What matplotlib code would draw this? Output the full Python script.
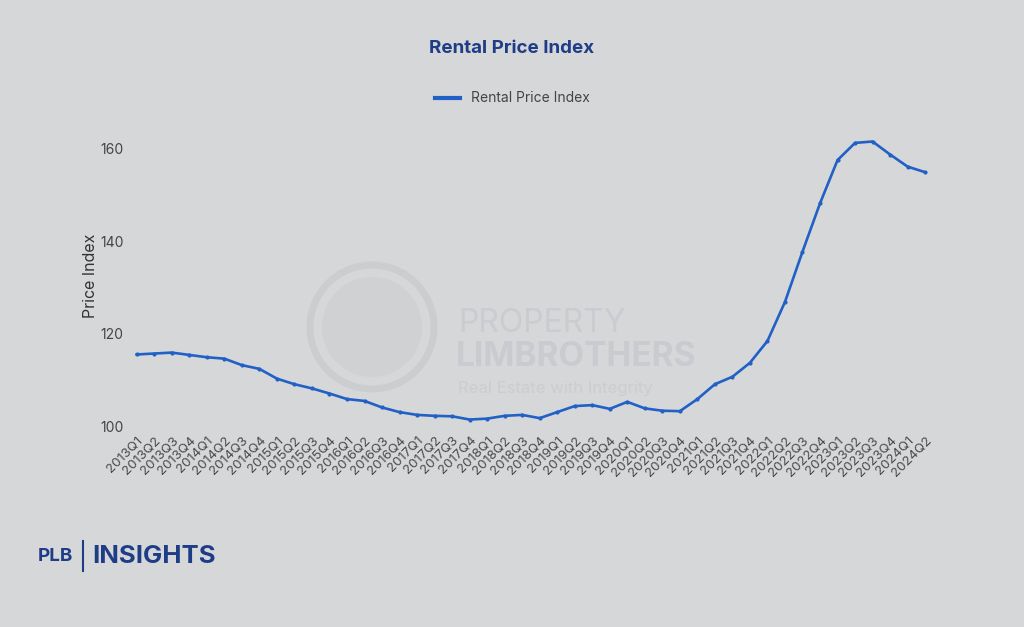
import matplotlib.pyplot as plt
from matplotlib.patches import Circle
import numpy as np

# quarterly rental price index, 2013Q1 - 2024Q2
years = list(range(2013, 2025))
quarters = [f"{y}Q{q}" for y in years for q in range(1, 5)][:46]
rental_index = [
    115.6, 115.8, 116.0, 115.5,
    115.0, 114.7, 113.3, 112.5,
    110.4, 109.2, 108.3, 107.2,
    106.0, 105.6, 104.2, 103.2,
    102.6, 102.4, 102.3, 101.6,
    101.8, 102.4, 102.6, 101.9,
    103.2, 104.5, 104.7, 103.9,
    105.4, 104.0, 103.5, 103.4,
    106.0, 109.2, 110.8, 113.8,
    118.5, 126.9, 137.7, 148.1,
    157.4, 161.1, 161.4, 158.6,
    156.0, 154.8,
]
yticks = [100, 120, 140, 160]

bg = "#d6d7d9"
navy = "#1f3d87"
line_col = "#2160c4"

plt.rcParams['font.family'] = ['Inter', 'DejaVu Sans']

fig = plt.figure(figsize=(10.24, 6.27), dpi=100, facecolor=bg)

# watermark behind the chart
wm = fig.add_axes([0, 0, 1, 1], facecolor="none")
wm.set_xlim(0, 1024)
wm.set_ylim(627, 0)
wm.axis("off")
wm.add_patch(Circle((372, 327), 62, fill=False, lw=5, ec="#cbcdcf"))
wm.add_patch(Circle((372, 327), 50, fill=True, lw=0, fc="#d0d1d3"))
wm.text(458, 323, "PROPERTY", fontsize=23, color="#cacccf", va="center", ha="left")
wm.text(456, 357, "LIMBROTHERS", fontsize=24, color="#c9cbce", va="center",
        ha="left", fontweight="bold")
wm.text(458, 388, "Real Estate with Integrity", fontsize=12, color="#cbcdcf",
        va="center", ha="left")

ax = fig.add_axes([0.125, 0.319, 0.787, 0.482], facecolor="none")
x = np.arange(len(quarters))
ax.plot(x, rental_index, color=line_col, lw=1.9, marker="o", ms=2.0,
        label="Rental Price Index")

ax.set_xlim(-0.5, len(quarters) - 0.5)
ax.set_ylim(100, 165)
ax.set_yticks(yticks)
ax.set_xticks(x)
ax.set_xticklabels(quarters, rotation=45, ha="right", rotation_mode="anchor",
                   fontsize=9.5, color="#4a4a4a")
ax.tick_params(axis="y", labelsize=10, colors="#444444", length=0, pad=3)
ax.tick_params(axis="x", length=0, pad=5)
for s in ax.spines.values():
    s.set_visible(False)
ax.set_ylabel("Price Index", fontsize=11.5, color="#333333", labelpad=2)

fig.text(0.5, 0.923, "Rental Price Index", ha="center", va="center",
         fontsize=13.5, fontweight="bold", color=navy)
leg = ax.legend(loc="center", bbox_to_anchor=(0.5, 0.843),
                bbox_transform=fig.transFigure, frameon=False, fontsize=10,
                labelcolor="#444444", handlelength=1.8)
for h in leg.legend_handles:
    h.set_marker("")
    h.set_linewidth(3)

# brand mark bottom-left
fig.text(0.037, 0.113, "PLB", fontsize=13.5, fontweight="bold", color=navy,
         va="center", ha="left")
fig.add_artist(plt.Line2D([0.081, 0.081], [0.09, 0.137], color=navy, lw=1.5))
fig.text(0.09, 0.113, "INSIGHTS", fontsize=18.5, fontweight="bold", color=navy,
         va="center", ha="left")

fig.savefig("out.png", dpi=100, facecolor=bg)
